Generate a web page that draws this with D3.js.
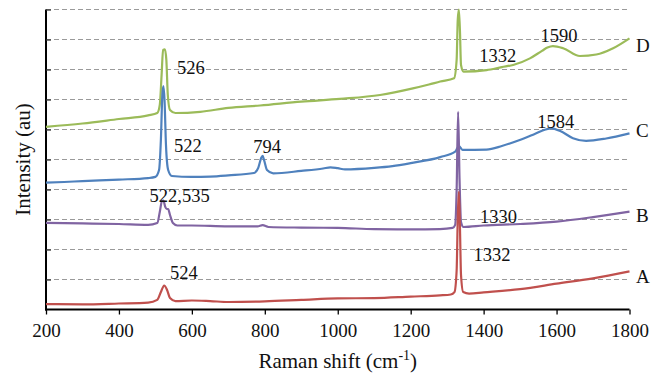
<!DOCTYPE html>
<html><head><meta charset="utf-8">
<script src="https://cdn.jsdelivr.net/npm/d3@7"></script>
<style>body{margin:0;background:#fff}svg{display:block}svg text{font-family:"Liberation Serif","Times New Roman",serif !important;fill:#111}</style>
</head><body><svg id="c" width="659" height="374"></svg>
<script>
const xTicks = [200,400,600,800,1000,1200,1400,1600,1800];
const yGrid = [1,2,3,4,5,6,7,8,9,10];

// Raman shift (cm-1) / intensity (grid units) for each spectrum
const shiftA = [200,300,400,480,505,515,524,532,540,555,600,650,700,800,900,1000,1100,1200,1280,1310,1320,1326,1329,1332,1335,1338,1344,1360,1400,1500,1600,1700,1800];
const valA   = [0.18,0.17,0.2,0.23,0.32,0.58,0.8,0.65,0.38,0.28,0.3,0.28,0.25,0.27,0.32,0.37,0.38,0.43,0.47,0.5,0.58,1.3,3.0,3.93,2.8,1.15,0.58,0.53,0.57,0.68,0.86,1.04,1.27];

const shiftB = [200,300,400,480,505,512,518,522,527,531,535,540,548,560,600,700,780,794,810,900,1000,1100,1200,1280,1315,1322,1326,1330,1334,1338,1345,1400,1500,1600,1700,1800];
const valB   = [2.89,2.87,2.85,2.82,2.88,3.25,3.62,3.63,3.42,3.35,3.35,3.15,2.88,2.8,2.8,2.77,2.77,2.81,2.75,2.73,2.72,2.68,2.67,2.68,2.72,2.82,3.98,6.59,4.32,2.92,2.75,2.8,2.85,2.93,3.08,3.26];

const shiftC = [200,250,300,400,480,500,510,515,519,522,525,529,535,545,600,650,700,770,782,790,794,798,806,823,900,960,980,1000,1020,1100,1150,1200,1281,1322,1332,1342,1408,1450,1499,1540,1570,1586,1610,1645,1681,1736,1800];
const valC   = [4.23,4.25,4.28,4.33,4.38,4.42,4.65,5.65,7.15,7.45,6.98,5.48,4.65,4.45,4.42,4.43,4.47,4.55,4.72,5.05,5.12,4.98,4.65,4.54,4.62,4.7,4.74,4.71,4.67,4.72,4.78,4.88,5.08,5.26,5.45,5.32,5.33,5.45,5.65,5.85,6.0,6.04,5.95,5.71,5.62,5.7,5.87];

const shiftD = [200,300,400,480,505,512,517,521,526,530,534,540,555,623,700,787,900,1006,1116,1206,1250,1281,1319,1326,1329,1332,1335,1338,1345,1408,1450,1481,1527,1560,1575,1590,1618,1664,1709,1755,1800];
const valD   = [6.09,6.2,6.35,6.47,6.55,6.82,7.82,8.65,8.67,8.32,7.15,6.65,6.55,6.59,6.72,6.8,6.93,7.02,7.15,7.37,7.5,7.6,7.71,8.32,9.65,10,9.32,8.15,7.93,7.98,8.08,8.15,8.37,8.62,8.73,8.78,8.71,8.45,8.5,8.71,9.04];

const seriesNames  = ["A","B","C","D"];
const seriesColors = ["#C0504D","#8064A2","#4F81BD","#9BBB59"];
const seriesLabelY = [0.89,2.93,5.74,8.59];

// peak annotations: text, shift (left edge), intensity (baseline)
const peakText  = ["526","522","794","522,535","524","1332","1590","1584","1330","1332"];
const peakShift = [559,551,768,484,540,1388,1556,1547,1390,1372];
const peakVal   = [7.85,5.26,5.21,3.6,1.03,8.26,8.93,6.04,2.89,1.63];

const FONT = "Liberation Serif";
const svg = d3.select("#c");
const x = d3.scaleLinear().domain([200,1800]).range([46,629.5]);
const y = d3.scaleLinear().domain([0,10]).range([309.5,9.5]);

// grid
svg.append("g").selectAll("line").data(yGrid).join("line")
  .attr("x1",x(200)).attr("x2",x(1800)).attr("y1",d=>y(d)).attr("y2",d=>y(d))
  .attr("stroke","#9a9a9a").attr("stroke-width",1).attr("stroke-dasharray","5,3");

// y axis (inner ticks, no labels)
const ya = svg.append("g").attr("transform",`translate(${x(200)},0)`)
  .call(d3.axisRight(y).tickValues(yGrid).tickSize(5).tickFormat(""));
ya.select(".domain").attr("stroke","#000").attr("stroke-width",2).attr("d",`M0,${y(10)}V${y(0)+1}`);
ya.selectAll(".tick line").attr("stroke","#333").attr("stroke-width",1.3);

// x axis
const xa = svg.append("g").attr("transform",`translate(0,${y(0)})`)
  .call(d3.axisBottom(x).tickValues(xTicks).tickSize(5).tickPadding(9).tickFormat(d3.format("d")));
xa.attr("font-family",FONT).attr("font-size",19);
xa.select(".domain").attr("stroke","#000").attr("stroke-width",2).attr("d",`M${x(200)-1},0H${x(1800)}`);
xa.selectAll(".tick line").attr("stroke","#000").attr("stroke-width",1.3);
xa.selectAll(".tick text").attr("fill","#111");

// series
const shifts = [shiftA,shiftB,shiftC,shiftD];
const vals = [valA,valB,valC,valD];
const line = d3.line().x(d=>x(d[0])).y(d=>y(d[1])).curve(d3.curveMonotoneX);
const order = [3,2,1,0];
order.forEach(i=>{
  const pts = shifts[i].map((s,j)=>[s,vals[i][j]]);
  svg.append("path").datum(pts).attr("d",line)
    .attr("fill","none").attr("stroke",seriesColors[i]).attr("stroke-width",2.2)
    .attr("stroke-linejoin","round");
});

// series labels
svg.append("g").attr("font-family",FONT).selectAll("text").data(seriesNames).join("text")
  .attr("x",x(1800)+6.5).attr("y",(d,i)=>y(seriesLabelY[i]))
  .attr("font-size",19).text(d=>d);

// peak labels
svg.append("g").attr("font-family",FONT).selectAll("text").data(peakText).join("text")
  .attr("x",(d,i)=>x(peakShift[i])).attr("y",(d,i)=>y(peakVal[i]))
  .attr("font-size",18.5).text(d=>d);

// axis titles
const xt = svg.append("text").attr("font-family",FONT).attr("x",(x(200)+x(1800))/2).attr("y",368)
  .attr("text-anchor","middle").attr("font-size",21);
xt.append("tspan").text("Raman shift (cm");
xt.append("tspan").attr("font-size",14).attr("dy",-8).text("-1");
xt.append("tspan").attr("dy",8).text(")");

svg.append("text").attr("font-family",FONT).attr("transform",`translate(30,${(y(0)+y(10))/2}) rotate(-90)`)
  .attr("text-anchor","middle").attr("font-size",21).text("Intensity (au)");
</script></body></html>
